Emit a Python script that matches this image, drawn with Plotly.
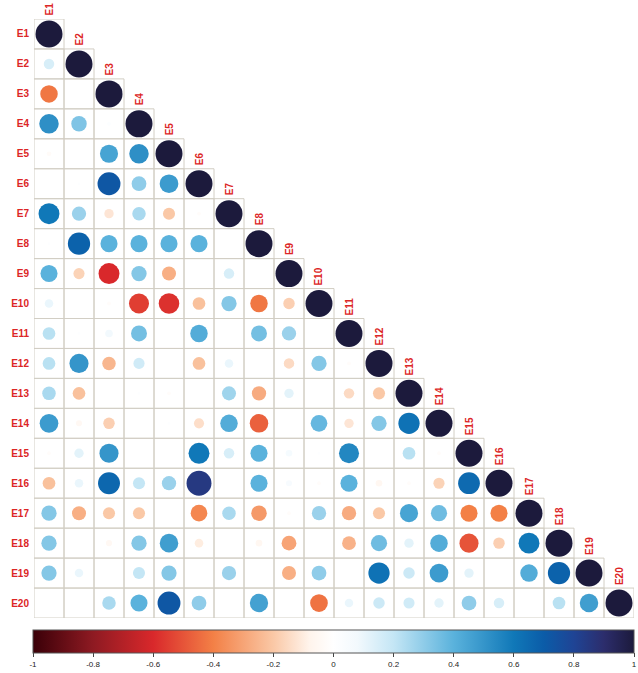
import plotly.graph_objects as go

# Variable names
labels = [f"E{i}" for i in range(1, 21)]

# Lower-triangle correlations: row k holds r(E_k, E_1 .. E_{k-1})
lower_rows = [
    [],
    [0.15],
    [-0.42, 0.0],
    [0.52, 0.33, 0.02],
    [-0.03, 0.0, 0.45, 0.52],
    [0.0, 0.01, 0.72, 0.30, 0.48],
    [0.60, 0.28, -0.12, 0.25, -0.20, -0.02],
    [0.01, 0.68, 0.40, 0.40, 0.40, 0.40, 0.0],
    [0.40, -0.17, -0.60, 0.32, -0.27, 0.0, 0.15, 0.0],
    [0.10, 0.0, -0.02, -0.55, -0.58, -0.22, 0.32, -0.42, -0.18],
    [0.22, 0.01, 0.08, 0.35, 0.0, 0.42, 0.0, 0.35, 0.28, 0.0],
    [0.22, 0.50, -0.25, 0.17, 0.0, -0.22, 0.10, 0.0, -0.15, 0.32, -0.02],
    [0.25, -0.22, 0.0, 0.01, -0.02, 0.0, 0.27, -0.28, 0.12, 0.0, -0.15, -0.20],
    [0.48, -0.05, -0.18, 0.0, 0.01, -0.14, 0.42, -0.47, 0.0, 0.38, -0.12, 0.32, 0.62],
    [-0.02, 0.12, 0.50, 0.0, 0.0, 0.60, 0.15, 0.40, 0.06, 0.01, 0.55, 0.0, 0.22, -0.02],
    [-0.22, 0.10, 0.66, 0.20, 0.28, 0.85, 0.0, 0.40, 0.05, -0.02, 0.40, -0.06, -0.02, -0.17, 0.65],
    [0.32, -0.27, -0.20, -0.20, 0.0, -0.38, 0.25, -0.33, -0.02, 0.28, -0.28, -0.20, 0.45, 0.36, -0.40, -0.40],
    [0.32, 0.0, -0.05, 0.32, 0.47, -0.10, 0.0, -0.06, -0.30, 0.0, -0.26, 0.36, 0.12, 0.42, -0.50, -0.18, 0.60],
    [0.32, 0.10, 0.0, 0.20, 0.32, 0.0, 0.28, 0.0, -0.27, 0.30, 0.0, 0.62, 0.18, 0.48, 0.12, 0.0, 0.42, 0.68],
    [0.0, 0.0, 0.25, 0.40, 0.72, 0.30, 0.0, 0.46, 0.0, -0.43, 0.10, 0.18, 0.17, 0.12, 0.30, 0.15, 0.0, 0.22, 0.47],
]

# Colour bar ticks
bar_ticks = [-1, -0.8, -0.6, -0.4, -0.2, 0, 0.2, 0.4, 0.6, 0.8, 1]
bar_tick_text = ["-1", "-0.8", "-0.6", "-0.4", "-0.2", "0", "0.2", "0.4", "0.6", "0.8", "1"]

colorscale = [
    [0.00, "#3a0008"],
    [0.10, "#8e1a22"],
    [0.20, "#d9282b"],
    [0.30, "#f38046"],
    [0.40, "#fac8a6"],
    [0.46, "#fff4ec"],
    [0.50, "#ffffff"],
    [0.54, "#f2f9fd"],
    [0.60, "#c4e6f5"],
    [0.70, "#5ab2dc"],
    [0.80, "#1078b8"],
    [0.85, "#0b5ca8"],
    [0.90, "#1f4495"],
    [0.95, "#2c2d6c"],
    [1.00, "#1c1a3c"],
]

n = len(labels)
W, H = 638, 673
M_L, M_R, M_T, M_B = 34, 4, 19, 54
cell_px = (W - M_L - M_R) / n
label_font = dict(family="Liberation Sans, Arial, sans-serif", size=10, color="#dc2626")

xs, ys, vals = [], [], []
for i in range(n):
    row = lower_rows[i] + [1.0]  # diagonal
    for j, v in enumerate(row):
        xs.append(j + 1)
        ys.append(i + 1)
        vals.append(v)

sizes = [0.9 * abs(v) ** 0.5 * cell_px for v in vals]

fig = go.Figure()

# cell borders of the lower triangle
shapes = []
for i in range(n):
    for j in range(i + 1):
        shapes.append(dict(
            type="rect", xref="x", yref="y",
            x0=j + 0.5, x1=j + 1.5, y0=i + 0.5, y1=i + 1.5,
            line=dict(color="#d2cec4", width=1), fillcolor="rgba(0,0,0,0)",
            layer="below",
        ))

fig.add_trace(go.Scatter(
    x=xs, y=ys, mode="markers",
    marker=dict(
        size=sizes, color=vals, colorscale=colorscale, cmin=-1, cmax=1,
        line=dict(width=0), opacity=1,
        colorbar=dict(
            orientation="h", x=-1 / 600, xanchor="left", y=-11 / 600, yanchor="top",
            len=601, lenmode="pixels", thickness=23, thicknessmode="pixels",
            xpad=0, ypad=0, outlinecolor="#555555", outlinewidth=1,
            tickvals=bar_ticks, ticktext=bar_tick_text, ticks="outside",
            ticklen=4, tickcolor="#444444", tickwidth=1,
            tickfont=dict(family="Liberation Sans, Arial, sans-serif", size=8, color="#222222"),
        ),
    ),
    hoverinfo="skip", showlegend=False,
))

# column labels above the diagonal
for j, lab in enumerate(labels):
    fig.add_annotation(
        x=j + 1, y=j + 0.5, xref="x", yref="y", text=f"<b>{lab}</b>", textangle=-90,
        showarrow=False, yanchor="bottom", xanchor="center", yshift=1,
        font=label_font,
    )

fig.update_layout(
    width=W, height=H,
    margin=dict(l=M_L, r=M_R, t=M_T, b=M_B, pad=0),
    paper_bgcolor="white", plot_bgcolor="white",
    shapes=shapes,
    xaxis=dict(range=[0.5, n + 0.5], showgrid=False, zeroline=False,
               showticklabels=False, ticks="", fixedrange=True),
    yaxis=dict(range=[n + 0.5, 0.5], showgrid=False, zeroline=False,
               tickvals=list(range(1, n + 1)), ticktext=[f"<b>{t}</b>" for t in labels],
               ticks="", tickfont=label_font,
               ticklabelstandoff=4, fixedrange=True),
)

fig.write_html("out.html")
